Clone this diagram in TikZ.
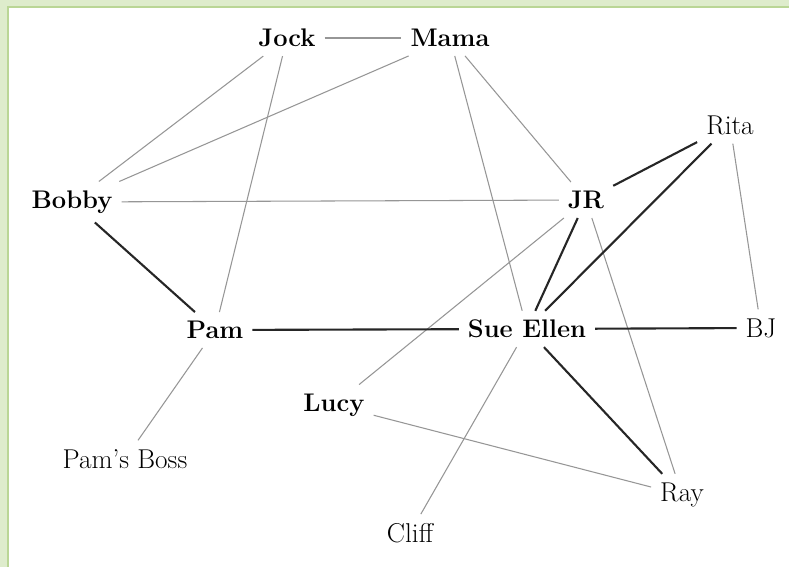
\documentclass[tikz,border=0pt]{standalone}
\usepackage{fontspec}
\usepackage{tikz}
\usetikzlibrary{positioning}
\definecolor{framegreen}{RGB}{222,236,204}
\definecolor{frameline}{RGB}{186,214,150}
\definecolor{weakgray}{RGB}{150,150,150}

\begin{document}
\begin{tikzpicture}[
  x=0.02cm, y=-0.02cm,
  person/.style={font=\fontsize{14.5}{17}\selectfont\bfseries, inner sep=5pt},
  other/.style={font=\fontsize{15.5}{18}\selectfont, inner sep=5pt},
  strongtie/.style={line width=1.2pt, black!85},
  weaktie/.style={line width=0.6pt, weakgray}
]
\useasboundingbox (0,0) rectangle (789,567);
\fill[white] (0,0) rectangle (789,567);
% frame
\fill[framegreen] (0,0) rectangle (789,7);
\fill[framegreen] (0,0) rectangle (8,567);
\draw[frameline, line width=0.8pt] (8,567) -- (8,7) -- (789,7);

\node[person] (jock) at (287,38) {Jock};
\node[person] (mama) at (450,38) {Mama};
\node[other] (rita) at (730,125) {Rita};
\node[person] (bobby) at (72,202) {Bobby};
\node[person] (jr) at (586,200) {JR};
\node[person] (pam) at (215,330) {Pam};
\node[person] (sue) at (527,329) {Sue Ellen};
\node[other] (bj) at (761,328) {BJ};
\node[person] (lucy) at (334,405) {Lucy};
\node[other] (boss) at (125,459) {Pam's Boss};
\node[other] (ray) at (682,495) {Ray};
\node[other] (cliff) at (410,533) {Cliff};

\draw[weaktie] (jock) -- (mama.west);
\draw[weaktie] (jock) -- (bobby);
\draw[weaktie] (jock) -- (pam);
\draw[weaktie] (mama) -- (bobby);
\draw[weaktie] (mama) -- (sue);
\draw[weaktie] (mama) -- (jr);
\draw[weaktie] (bobby) -- (jr);
\draw[weaktie] (jr) -- (lucy);
\draw[weaktie] (jr) -- (ray);
\draw[weaktie] (rita) -- (bj);
\draw[weaktie] (pam) -- (boss);
\draw[weaktie] (lucy) -- (ray);
\draw[weaktie] (sue) -- (cliff);

\draw[strongtie] (bobby) -- (pam);
\draw[strongtie] (pam) -- (sue);
\draw[strongtie] (jr) -- (rita);
\draw[strongtie] (jr) -- (sue);
\draw[strongtie] (rita) -- (sue);
\draw[strongtie] (sue) -- (bj);
\draw[strongtie] (sue) -- (ray);

\end{tikzpicture}
\end{document}
